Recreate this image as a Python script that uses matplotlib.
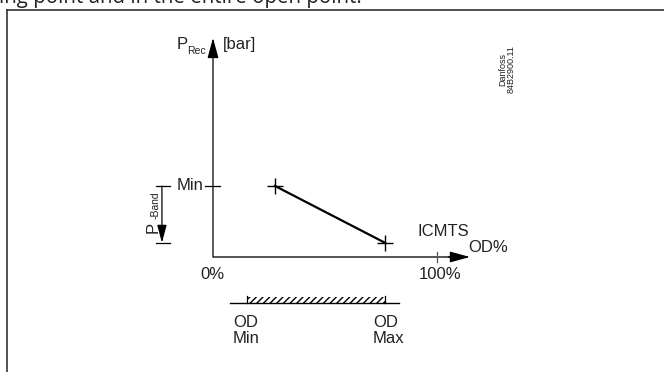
import matplotlib.pyplot as plt
from matplotlib.patches import Rectangle
from matplotlib.lines import Line2D

plt.rcParams['font.family'] = ['Liberation Sans', 'DejaVu Sans']

# schematic data (OD% on x, receiver pressure on y)
od_pct = [27.7, 76.8]          # ICMTS line end points
p_rec = [4.0, 0.8]
p_min = 4.0
p_band_low = 0.8
od_min, od_max = 15.2, 76.8
x_ticks = [0, 100]
x_ticklabels = ['0%', '100%']

# pixel layout of the diagram origin and scales
W, H = 664, 372
px0, py0 = 213, 257
sx, sy = 2.24, 17.75

fig = plt.figure(figsize=(W / 100, H / 100), dpi=100)
ax = fig.add_axes([0, 0, 1, 1])
ax.set_xlim(-px0 / sx, (W - px0) / sx)
ax.set_ylim(-(H - py0) / sy, py0 / sy)
ax.axis('off')

# frame and cut-off caption of the page
fig.add_artist(Line2D([7 / W, 1], [1 - 10 / H, 1 - 10 / H], color='#333333', lw=1.2))
fig.add_artist(Line2D([7 / W, 7 / W], [0, 1 - 10 / H], color='#333333', lw=1.2))
fig.text(-0.002, 1 - 2.5 / H, 'ing point and in the entire open point.', fontsize=14.8,
         family='Open Sans', va='baseline', ha='left', color='#222222')

# axes arrows
ax.annotate('', xy=(0, 12.34), xytext=(0, 0),
            arrowprops=dict(arrowstyle='-|>,head_length=0.95,head_width=0.26', lw=0.9,
                            color='black', shrinkA=0, shrinkB=0, mutation_scale=13))
ax.plot([0, 110], [0, 0], color='#555555', lw=1.4, solid_capstyle='butt')
ax.annotate('', xy=(114.7, 0), xytext=(105, 0),
            arrowprops=dict(arrowstyle='-|>,head_length=0.95,head_width=0.26', lw=0.9,
                            color='black', shrinkA=0, shrinkB=0, mutation_scale=13))

# ticks
ax.plot([-3.6, 3.1], [p_min, p_min], color='black', lw=0.9)
for xt, lab in zip(x_ticks, x_ticklabels):
    if xt != 0:
        ax.plot([xt, xt], [-0.28, 0.28], color='#555555', lw=0.9)
    ax.text(xt + (1.3 if xt else -0.4), -1.01, lab, fontsize=12, ha='center', va='center', color='#222222')
ax.text(-4.46, p_min, 'Min', fontsize=12, ha='right', va='center', color='#222222')

# axis labels
ax.text(-16.07, 11.72, 'P', fontsize=12, ha='left', va='baseline', color='#222222')
ax.text(-11.6, 11.45, 'Rec', fontsize=7.5, ha='left', va='baseline', color='#222222')
ax.text(4.46, 12.0, '[bar]', fontsize=12, ha='left', va='center', color='#222222')
ax.text(91.5, 1.41, 'ICMTS', fontsize=12, ha='left', va='center', color='#222222')
ax.text(113.8, 0.56, 'OD%', fontsize=12, ha='left', va='center', color='#222222')

# ICMTS characteristic
ax.plot(od_pct, p_rec, color='black', lw=1.6, marker='+', markersize=11, markeredgewidth=1.0)

# P-band arrow
ax.plot([-25.4, -19.2], [p_min, p_min], color='black', lw=0.9)
ax.plot([-25.4, -19.2], [p_band_low, p_band_low], color='black', lw=0.9)
ax.annotate('', xy=(-22.8, p_band_low), xytext=(-22.8, p_min),
            arrowprops=dict(arrowstyle='-|>,head_length=0.9,head_width=0.24', lw=0.9,
                            color='black', shrinkA=0, shrinkB=0, mutation_scale=12))
ax.text(-26.8, 1.69, 'P', fontsize=12, rotation=90, ha='center', va='center', color='#222222')
ax.text(-25.6, 2.93, '-Band', fontsize=7.5, rotation=90, ha='center', va='center', color='#222222')

# OD range bar
y_bar = -2.59
ax.plot([7.6, 83.0], [y_bar, y_bar], color='black', lw=1.0)
ax.add_patch(Rectangle((od_min, y_bar), od_max - od_min, 0.36, fill=False, hatch='/////',
                       edgecolor='black', lw=0))
for xo in (od_min, od_max):
    ax.plot([xo, xo], [y_bar, y_bar + 0.4], color='black', lw=0.9)
ax.text(8.9, -3.27, 'OD\nMin', fontsize=12, ha='left', va='top', linespacing=1.05, color='#222222')
ax.text(71.4, -3.27, 'OD\nMax', fontsize=12, ha='left', va='top', linespacing=1.05, color='#222222')

# drawing id
ax.text(131.25, 9.24, 'Danfoss\n84B2900.11', fontsize=6.5, rotation=90, ha='center', va='bottom',
        linespacing=0.9, color='#222222')

fig.savefig('out.png', dpi=100)
